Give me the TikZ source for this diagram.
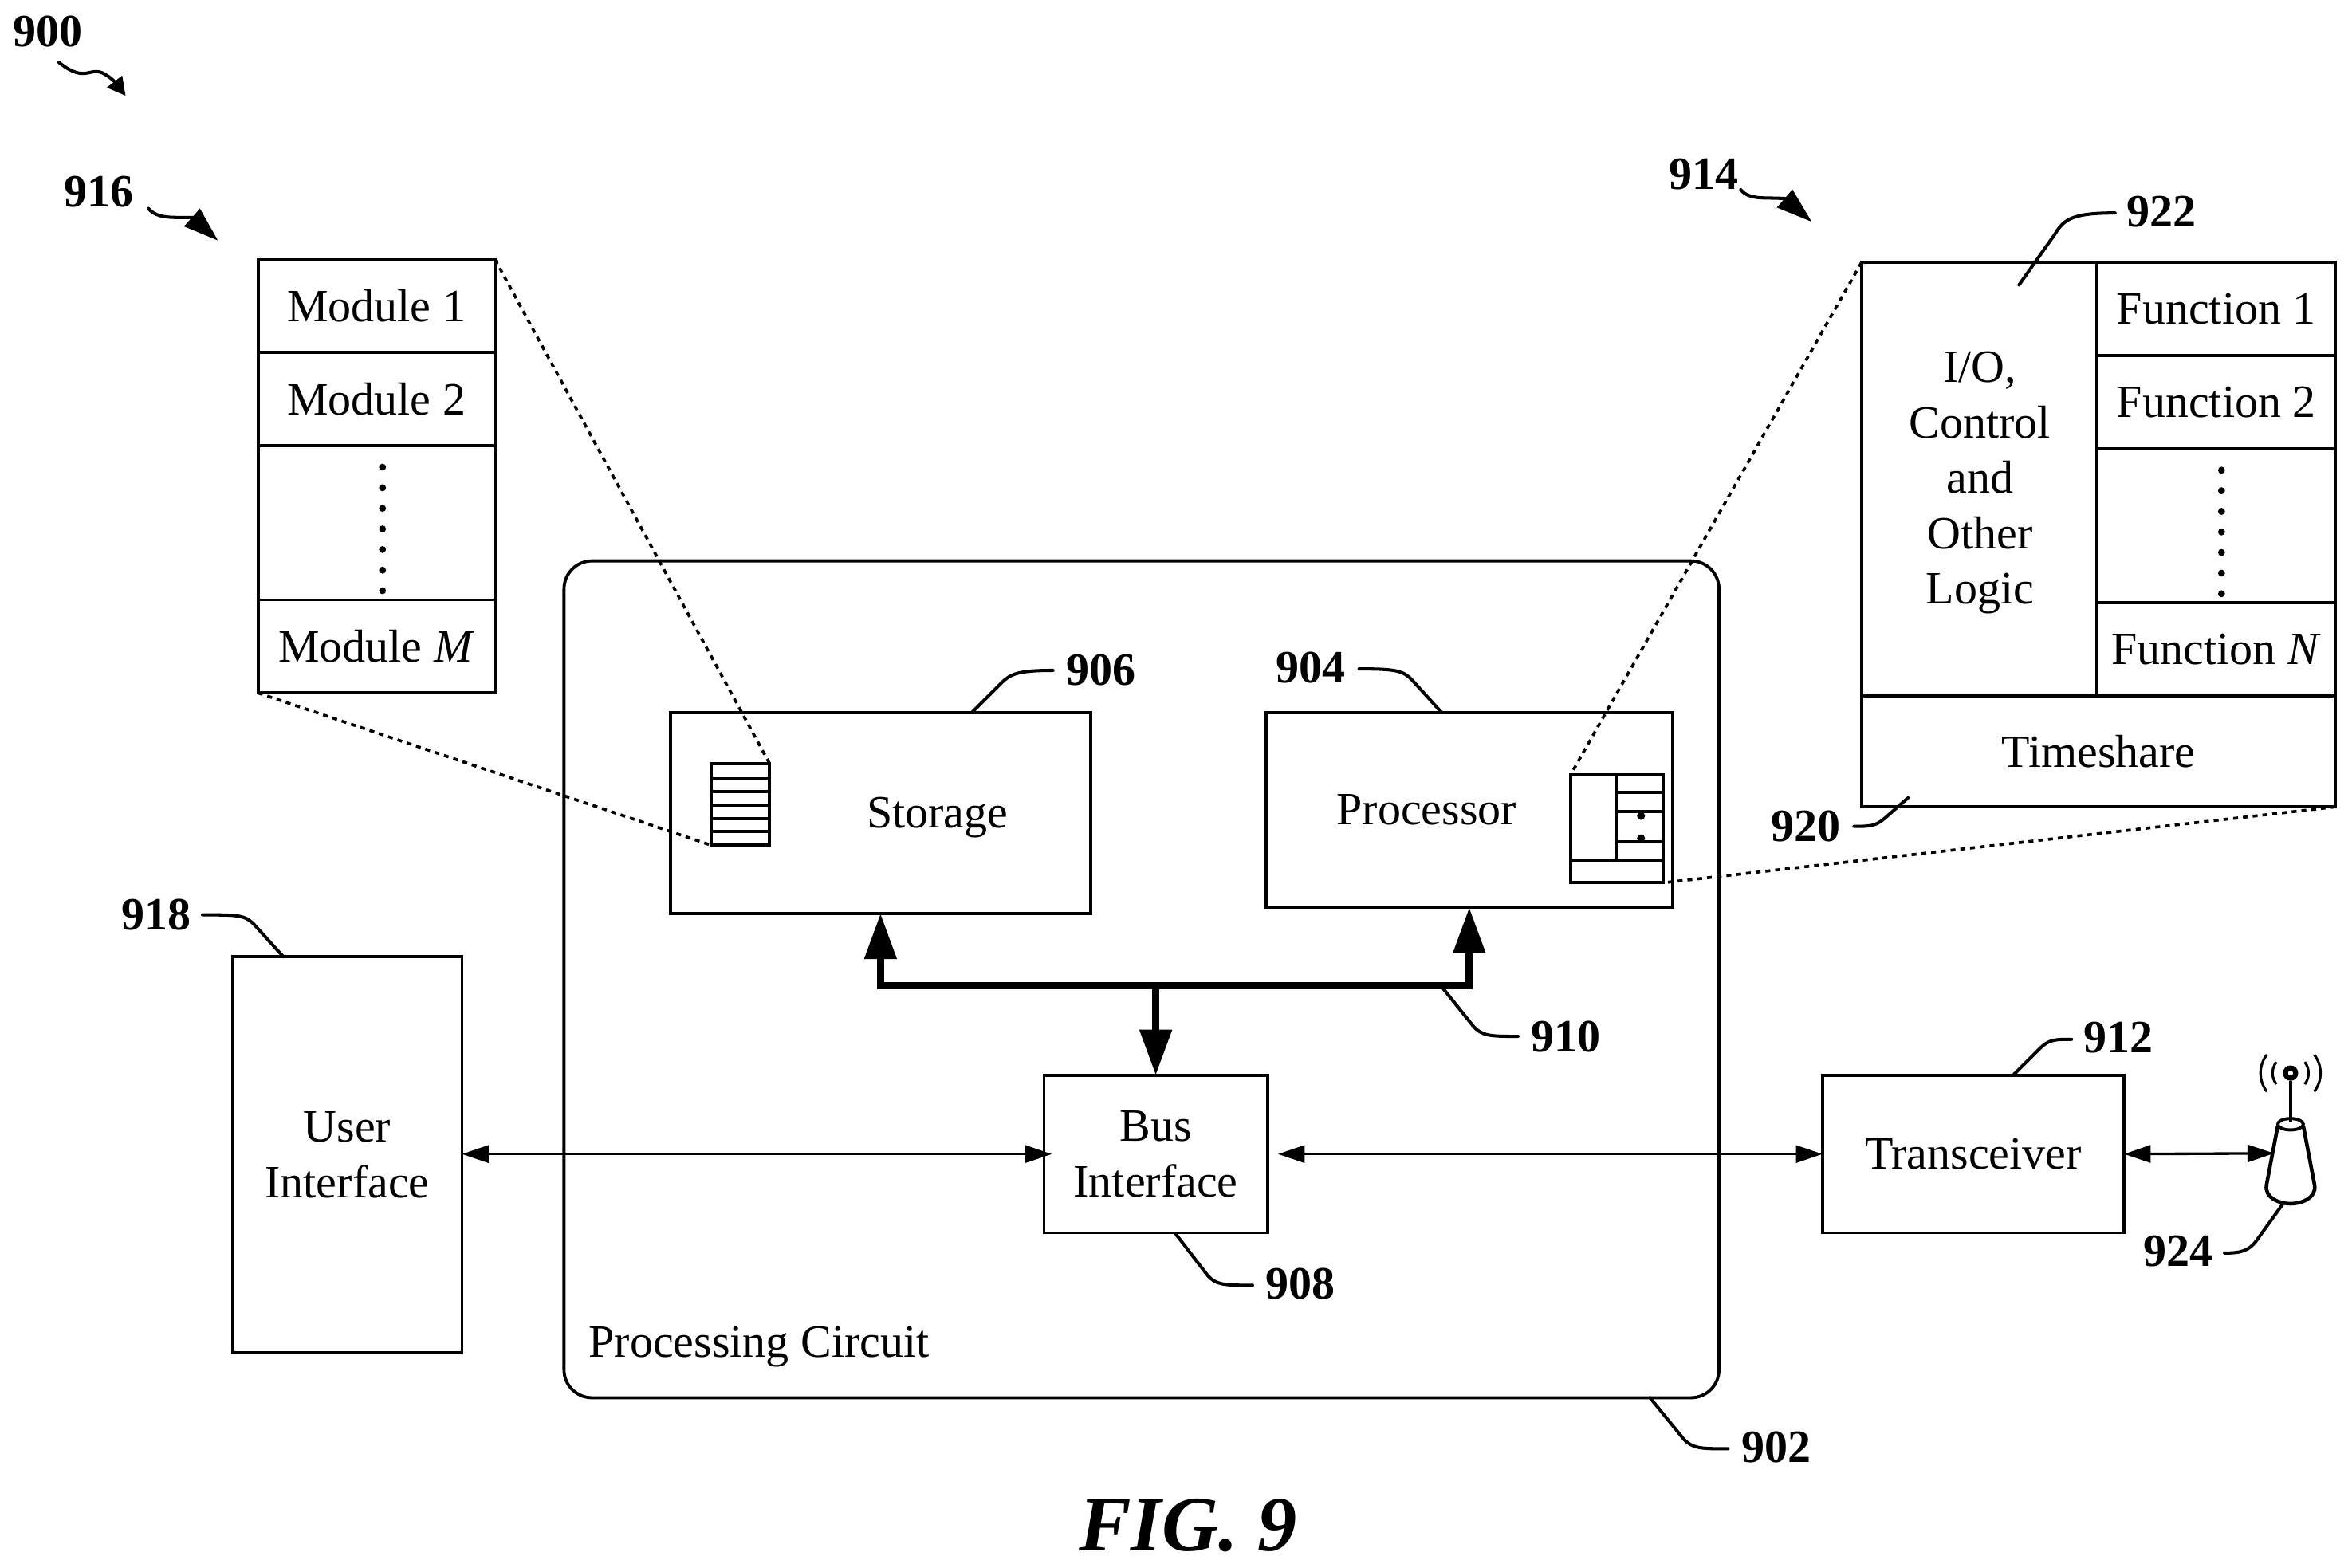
\documentclass[tikz,border=0pt]{standalone}
\usepackage{fontspec}
\setmainfont{Liberation Serif}
\usetikzlibrary{arrows.meta}
\newcommand{\bx}[6]{\node[boxnode,minimum width={(#4-#2)*1.0706pt},minimum height={(#5-#3)*1.0706pt}] (#1) at ({(#2+#4)/2},{(#3+#5)/2}) {#6};}
\tikzset{
  boxnode/.style={draw=black,line width=2.2pt,inner sep=0pt,outer sep=0pt,align=center,rectangle},
  lab/.style={font=\fontsize{33}{39.6}\selectfont\bfseries,inner sep=0pt},
  txt/.style={font=\fontsize{33}{39.6}\selectfont,inner sep=0pt,align=center},
  leader/.style={line width=2.3pt,line cap=round},
  zoomline/.style={line width=2.1pt,dash pattern=on 3.5pt off 3.5pt},
  link/.style={line width=1.9pt,{Triangle[length=19pt,width=12.3pt]}-{Triangle[length=19pt,width=12.3pt]}},
  busline/.style={line width=5.2pt},
  bighead/.style={-{Triangle[length=32.6pt,width=22pt]}},
  ellipsisdots/.style={line width=5pt,line cap=round,dash pattern=on 0pt off 14.7pt},
  thin box/.style={line width=2.2pt},
}
\begin{document}
\begin{tikzpicture}[x=0.037628cm,y=-0.037628cm,every node/.append style={font=\fontsize{33}{39.6}\selectfont}]
\useasboundingbox (0,0) rectangle (1568,1045.5);
% circuit
\node[boxnode,rounded corners=20pt,minimum width={770*1.0706pt},minimum height={558*1.0706pt}] (circuit) at (761,653) {};
\node[txt] (circuitlabel) at (506,898) {Processing Circuit};
% boxes
\bx{storage}{447}{475}{727}{609}{}
\bx{processor}{844}{475}{1115}{605}{}
\bx{ui}{155}{638}{308}{902}{User\\Interface}
\bx{bus}{696}{717}{845}{822}{Bus\\Interface}
\bx{trans}{1215}{717}{1416}{822}{Transceiver}
\node[txt] (storagelabel) at (625,545) {Storage};
\node[txt] (processorlabel) at (951,540) {Processor};
% module stack
\bx{mod1}{172}{173}{330}{235}{Module 1}
\bx{mod2}{172}{235}{330}{297}{Module 2}
\bx{moddots}{172}{297}{330}{400}{}
\bx{modm}{172}{400}{330}{462}{Module \textit{M}}
\draw[ellipsisdots] (moddots.center) ++(4,-37) coordinate (mda) -- ++(0,92) coordinate (mdb);
% function block
\bx{logic}{1241}{175}{1398}{464}{}
\node[txt] (logictext) at (1320,322) {I/O,\\Control\\and\\Other\\Logic};
\bx{fn1}{1398}{175}{1557}{237}{Function 1}
\bx{fn2}{1398}{237}{1557}{299}{Function 2}
\bx{fndots}{1398}{299}{1557}{402}{}
\bx{fnn}{1398}{402}{1557}{464}{Function \textit{N}}
\bx{timeshare}{1241}{464}{1557}{538}{Timeshare}
\draw[ellipsisdots] (fndots.center) ++(3.5,-37) coordinate (fda) -- ++(0,92) coordinate (fdb);
% tiny storage icon
\bx{tinymem}{474}{509}{513}{563.5}{}
\foreach \yy in {519,528,537,546,554.5}{\draw[thin box] (tinymem.west |- 0,\yy) -- (tinymem.east |- 0,\yy);}
% tiny processor icon
\bx{tinyproc}{1047}{516.7}{1108.8}{588.6}{}
\coordinate (tpv) at (1077.7,516.7);
\draw[thin box] (tpv) -- (1077.7,573.6);
\draw[thin box] (tinyproc.west |- 0,573.6) -- (tinyproc.east |- 0,573.6);
\foreach \yy in {528.5,541,561}{\draw[thin box] (tpv |- 0,\yy) -- (tinyproc.east |- 0,\yy);}
\fill (1094,544) circle (2.7);
\fill (1094,559) circle (2.7);
% zoom lines
\draw[zoomline] (mod1.north east) -- (tinymem.north east);
\draw[zoomline] (modm.south west) -- (tinymem.south west);
\draw[zoomline] (logic.north west) -- (tinyproc.north west);
\draw[zoomline] (timeshare.south east) -- (tinyproc.south east);
% bus
\coordinate (junction) at (bus.north |- 0,657.4);
\draw[busline,{Triangle[length=32.6pt,width=22pt]}-{Triangle[length=32.6pt,width=22pt]}] (storage.south) |- (junction) -| (processor.south);
\draw[busline,bighead] (junction) -- (bus.north);
% links
\coordinate (antin) at (1516,769);
\draw[link,shorten >=-5.6pt] (ui.east |- bus.west) -- (bus.west);
\draw[link,shorten <=7.5pt] (bus.east) -- (trans.west);
\draw[link] (trans.east) -- (antin);
% antenna
\coordinate (antbase) at (1522,802.6);
\coordinate (anttop) at (1527,715.5);
\draw[line width=2.6pt,line join=round] (1518.5,750.6) -- (1511,790) .. controls (1509.5,799) and (1520,802.6) .. (1527,802.6) .. controls (1534,802.6) and (1544.5,799) .. (1543,790) -- (1535.5,750.6);
\draw[line width=2.2pt] (1527,749.6) ellipse (8.5 and 3.8);
\draw[line width=2.6pt] (anttop) ++(0,5) -- (1527,748);
\draw[line width=3.6pt] (anttop) circle (3.4);
\draw[line width=1.8pt] (anttop) ++(142:12) arc (142:218:12);
\draw[line width=1.8pt] (anttop) ++(38:12) arc (38:-38:12);
\draw[line width=1.8pt] (anttop) ++(142:20) arc (142:218:20);
\draw[line width=1.8pt] (anttop) ++(38:20) arc (38:-38:20);
% labels
\node[lab] (l900) at (32,21) {900};
\node[lab] (l916) at (66,128) {916};
\node[lab] (l914) at (1136,116) {914};
\node[lab] (l922) at (1441,141) {922};
\node[lab] (l906) at (734,447) {906};
\node[lab] (l904) at (874,445) {904};
\node[lab] (l918) at (104,610) {918};
\node[lab] (l910) at (1044,691) {910};
\node[lab] (l912) at (1412,692) {912};
\node[lab] (l908) at (867,856) {908};
\node[lab] (l902) at (1184,965) {902};
\node[lab] (l924) at (1452,834) {924};
\node[lab] (l920) at (1204,551) {920};
\node[font=\fontsize{56}{60}\selectfont\bfseries\itshape,inner sep=0pt] (fig) at (792,1017) {FIG. 9};
% curly reference arrows
\coordinate (b900) at (76.2,54.2);
\coordinate (a900) at (83.7,63.8);
\coordinate (b916) at (128,145);
\coordinate (a916) at (145.3,160.4);
\coordinate (b914) at (1189.7,132.3);
\coordinate (a914) at (1207.8,147.9);
\draw[leader] (39.3,41.6) .. controls (44,45.5) and (50,49) .. (55,49) .. controls (60,49) and (63,46.5) .. (68,48.5) .. controls (71,50) and (74,52) .. (b900);
\draw[-{Triangle[length=12.8pt,width=13.4pt]},line width=2pt] (b900) -- (a900);
\draw[leader] (98.9,139) .. controls (103,144) and (110,145) .. (118,145) -- (b916);
\draw[-{Triangle[length=24.8pt,width=16.5pt]},line width=2pt] (b916) -- (a916);
\draw[leader] (1160.5,126.5) .. controls (1164,131) and (1170,132) .. (1178,132) -- (b914);
\draw[-{Triangle[length=25.5pt,width=16.5pt]},line width=2pt] (b914) -- (a914);
% leaders
\draw[leader] (1346,190) -- (1370,156) .. controls (1376,146) and (1382,142) .. (1410,142);
\draw[leader] (storage.north -| 648,0) ++(0,0) -- (668,455) .. controls (674,449) and (680,447) .. (702,447);
\draw[leader] (961,475) -- (941,453) .. controls (935,447) and (930,446) .. (906,446);
\draw[leader] (189,638) -- (169,616) .. controls (163,610) and (158,610) .. (135,610);
\draw[leader] (962,659) -- (982,684) .. controls (988,691) and (994,691) .. (1012,691);
\draw[leader] (1342,717) -- (1360,699) .. controls (1366,693) and (1370,693) .. (1381,693);
\draw[leader] (784,823) -- (804,849) .. controls (810,857) and (816,857) .. (835,857);
\draw[leader] (1100,932) -- (1122,959) .. controls (1128,966) and (1134,966) .. (1152,966);
\draw[leader] (1272,532) -- (1256,546) .. controls (1250,551) and (1246,551) .. (1236,551);
\draw[leader] (antbase) -- (1504,827.6) .. controls (1499,834) and (1494,835.5) .. (1483,835.5);
\end{tikzpicture}
\end{document}
